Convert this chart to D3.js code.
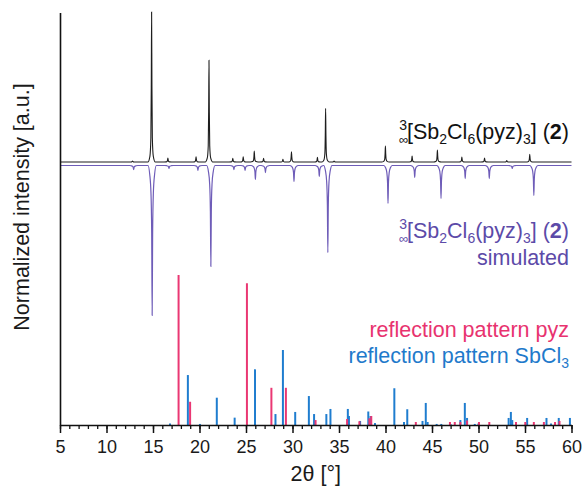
<!DOCTYPE html>
<html>
<head>
<meta charset="utf-8">
<script src="https://cdn.jsdelivr.net/npm/d3@7"></script>
<style>
  body { margin: 0; background: #fff; }
  svg { display: block; font-family: "Liberation Sans", Arial, sans-serif; }
</style>
</head>
<body>
<svg id="chart" width="582" height="492"></svg>
<script>
// --- data (2θ in °, intensity normalised so that the strongest line = 100) ---
// measured powder pattern (black)
const expPos = [12.8, 14.85, 16.6, 19.63, 21.02, 23.58, 24.7, 25.89, 26.89, 28.97, 29.89, 32.68, 33.56, 34.47, 39.99, 42.86, 45.58, 48.21, 50.65, 53.04, 55.51];
const expInt = [0.7, 100, 2.7, 3.5, 67.8, 2.5, 3.5, 7.3, 2.5, 1.8, 6.9, 3.1, 35.8, 0.7, 10.7, 4, 8, 3.3, 2.7, 1, 5.1];
// simulated pattern (purple, drawn downwards)
const simPos = [12.92, 14.91, 16.72, 19.83, 21.22, 23.7, 24.9, 26.01, 27.09, 30.16, 32.88, 33.8, 40.27, 43.14, 45.97, 48.57, 51.16, 53.63, 55.95];
const simInt = [2.7, 100, 2, 3.3, 67.3, 2.7, 3.3, 9.3, 4.7, 10.7, 7.3, 58, 25.3, 8, 22, 8.7, 8.7, 2, 20];
// reflection pattern pyz (pink sticks)
const pyzPos = [17.75, 18.99, 25.1, 27.73, 29.29, 32.48, 35.87, 37.19, 38.27, 38.47, 43.26, 46.93, 47.45, 48.05, 48.77, 50.05, 51.16, 54.03, 55.03, 55.95, 57.03, 58.23, 58.71];
const pyzInt = [100, 15.5, 94.5, 24.8, 24.8, 3.3, 4, 2.5, 4.5, 6, 2, 2, 2, 2, 3, 2, 2, 2, 2, 2, 2, 2, 2.7];
// reflection pattern SbCl3 (blue sticks)
const sbcPos = [16.83, 18.75, 20.05, 21.86, 23.78, 25.97, 28.17, 28.97, 30.29, 31.76, 32.32, 33.64, 34.08, 35.95, 36.07, 37.27, 38.15, 38.39, 38.87, 40.95, 41.99, 42.34, 43.98, 44.33, 44.53, 45.5, 46.0, 47.0, 48.05, 48.53, 48.77, 49.6, 50.0, 53.24, 53.48, 53.63, 55.23, 57.31, 57.8, 58.63, 59.83];
const sbcInt = [1, 33.3, 0.7, 18.2, 4.9, 37.1, 7.3, 50, 8.7, 19.3, 7.3, 7.3, 10.7, 10.7, 6, 2.7, 9, 6, 1.3, 24.5, 2, 10.5, 2.7, 14.7, 2, 0.7, 0.7, 0.7, 3.3, 14.7, 4.7, 0.7, 1, 4.7, 8.7, 3.3, 4.7, 4.7, 1, 4.7, 4.7];
// x axis
const tickLabels = [5, 10, 15, 20, 25, 30, 35, 40, 45, 50, 55, 60];

// --- layout ---
const x = d3.scaleLinear().domain([5, 60]).range([60, 571.5]);
const y = d3.scaleLinear().domain([0, 275]).range([425, 12.5]);
const expOffset = 175.3;   // baseline of the measured curve
const simOffset = 173;     // baseline of the simulated curve
const labelSize = 21.5, subSize = 14;

const svg = d3.select("#chart");

// peak profile templates ([Δ2θ, fraction of peak height])
const expShape = [[-0.4, 0], [-0.18, 0.04], [-0.08, 0.16], [-0.035, 0.5], [0, 1], [0.035, 0.5], [0.08, 0.16], [0.18, 0.04], [0.4, 0]];
const simShape = [[-0.45, 0], [-0.26, 0.06], [-0.13, 0.18], [-0.05, 0.45], [0, 1], [0.05, 0.45], [0.13, 0.18], [0.26, 0.06], [0.45, 0]];

function profile(pos, ints, shape) {
  const pts = [[5, 0]];
  pos.forEach((p, i) => {
    const lo = i > 0 ? (pos[i - 1] + p) / 2 : 5;
    const hi = i < pos.length - 1 ? (pos[i + 1] + p) / 2 : 60;
    shape.forEach(([dx, f]) => {
      const xx = p + dx;
      if (xx > lo && xx < hi) pts.push([xx, f * ints[i]]);
    });
  });
  pts.push([60, 0]);
  return pts;
}

// simulated (downwards)
svg.append("path")
  .attr("d", d3.line()
    .x(d => x(d[0]))
    .y(d => y(simOffset - d[1]))
    .curve(d3.curveMonotoneX)(profile(simPos, simInt, simShape)))
  .attr("fill", "none")
  .attr("stroke", "#6e5cb8")
  .attr("stroke-width", 1.2);

// measured
svg.append("path")
  .attr("d", d3.line()
    .x(d => x(d[0]))
    .y(d => y(expOffset + d[1]))
    .curve(d3.curveMonotoneX)(profile(expPos, expInt, expShape)))
  .attr("fill", "none")
  .attr("stroke", "#1e1e1e")
  .attr("stroke-width", 1.1);

// stick patterns
function sticks(pos, ints, color) {
  svg.append("g").selectAll("line")
    .data(pos.map((p, i) => [p, ints[i]]))
    .join("line")
    .attr("x1", d => x(d[0])).attr("x2", d => x(d[0]))
    .attr("y1", y(0)).attr("y2", d => y(d[1]))
    .attr("stroke", color)
    .attr("stroke-width", 2);
}
sticks(sbcPos, sbcInt, "#1f7dcf");
sticks(pyzPos, pyzInt, "#ea3773");

// axes
const minor = svg.append("g")
  .attr("transform", `translate(0,${y(0)})`)
  .call(d3.axisBottom(x).tickValues(d3.range(5, 61, 1)).tickSize(4).tickFormat(""));
minor.select(".domain").remove();
minor.selectAll("line").attr("stroke", "#111").attr("stroke-width", 1.3);

const xAxis = svg.append("g")
  .attr("transform", `translate(0,${y(0)})`)
  .call(d3.axisBottom(x).tickValues(tickLabels).tickSize(8).tickSizeOuter(0).tickPadding(7));
xAxis.select(".domain").attr("stroke", "#111").attr("stroke-width", 1.6);
xAxis.selectAll(".tick line").attr("stroke", "#111").attr("stroke-width", 1.5);
xAxis.selectAll(".tick text")
  .attr("font-family", "Liberation Sans, Arial, sans-serif")
  .attr("font-size", 18)
  .attr("fill", "#1a1a1a");

const yAxis = svg.append("g")
  .attr("transform", `translate(${x(5)},0)`)
  .call(d3.axisLeft(y).tickValues([]).tickSizeOuter(0));
yAxis.select(".domain").attr("stroke", "#111").attr("stroke-width", 1.6);

// axis titles
svg.append("text")
  .attr("x", (x(5) + x(60)) / 2).attr("y", 481)
  .attr("text-anchor", "middle")
  .attr("font-size", labelSize).attr("fill", "#1a1a1a")
  .text("2θ [°]");

svg.append("text")
  .attr("transform", "translate(29,207) rotate(-90)")
  .attr("text-anchor", "middle")
  .attr("font-size", labelSize).attr("fill", "#1a1a1a")
  .text("Normalized intensity [a.u.]");

// compound labels
function chemLabel(yb, color) {
  const t = svg.append("text")
    .attr("x", 569).attr("y", yb)
    .attr("text-anchor", "end")
    .attr("font-size", labelSize).attr("fill", color);
  t.append("tspan").attr("font-size", 13).attr("dy", 5).text("∞");
  t.append("tspan").attr("font-size", subSize).attr("dx", -9).attr("dy", -14).text("3");
  t.append("tspan").attr("dy", 9).text("[Sb");
  t.append("tspan").attr("font-size", subSize).attr("dy", 5).text("2");
  t.append("tspan").attr("dy", -5).text("Cl");
  t.append("tspan").attr("font-size", subSize).attr("dy", 5).text("6");
  t.append("tspan").attr("dy", -5).text("(pyz)");
  t.append("tspan").attr("font-size", subSize).attr("dy", 5).text("3");
  t.append("tspan").attr("dy", -5).text("] (");
  t.append("tspan").attr("font-weight", "bold").text("2");
  t.append("tspan").text(")");
}
chemLabel(139, "#111");
chemLabel(238, "#5c4aa8");

svg.append("text")
  .attr("x", 569).attr("y", 265)
  .attr("text-anchor", "end")
  .attr("font-size", labelSize).attr("fill", "#5c4aa8")
  .text("simulated");

svg.append("text")
  .attr("x", 569).attr("y", 337)
  .attr("text-anchor", "end")
  .attr("font-size", labelSize).attr("fill", "#e8336f")
  .text("reflection pattern pyz");

const sb = svg.append("text")
  .attr("x", 569).attr("y", 363)
  .attr("text-anchor", "end")
  .attr("font-size", labelSize).attr("fill", "#1f7acb");
sb.append("tspan").text("reflection pattern SbCl");
sb.append("tspan").attr("font-size", subSize).attr("dy", 5).text("3");
</script>
</body>
</html>
